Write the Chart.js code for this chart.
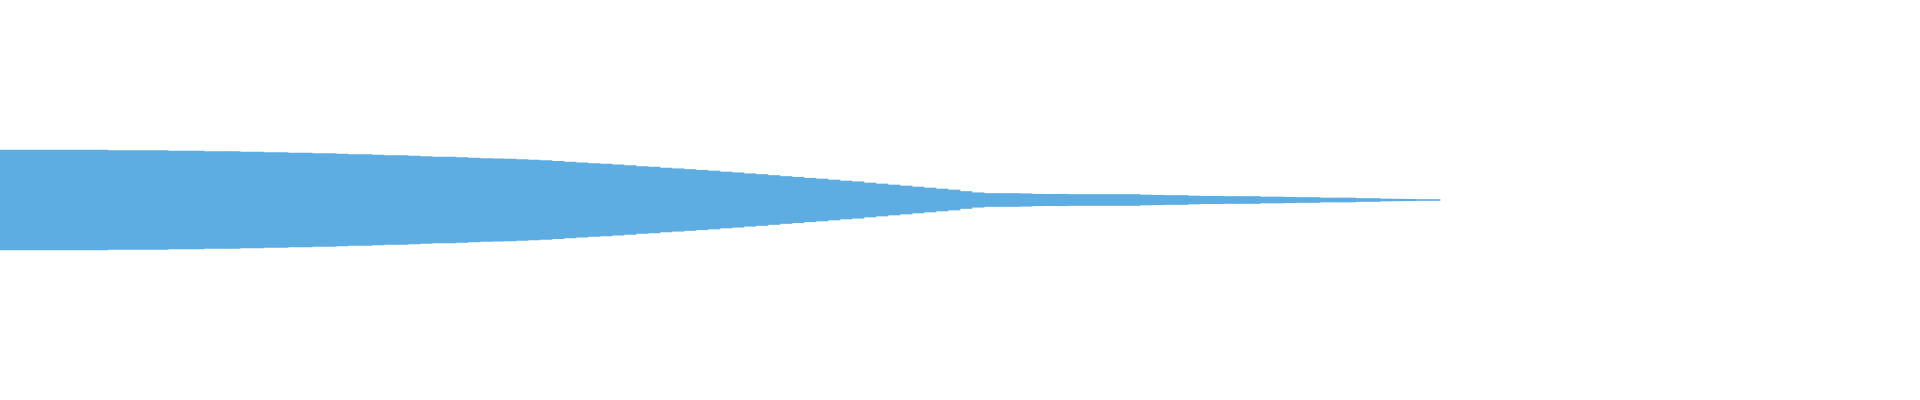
<!DOCTYPE html>
<html>
<head>
<meta charset="utf-8">
<script src="https://cdn.jsdelivr.net/npm/chart.js@4"></script>
<style>
html,body{margin:0;padding:0;background:#fff;}
#wrap{width:1920px;height:400px;position:relative;}
</style>
</head>
<body>
<div id="wrap"><canvas id="c"></canvas></div>
<script>
// Band width (height of the funnel) per stage
const widths = [
 100,100,100,100,100,100,100,100,100,99,
 99,99,99,99,98,98,98,97,97,97,
 96,96,95,95,94,94,93,93,92,91,
 91,90,89,89,88,87,86,86,85,84,
 83,82.5,82,81,80,79,77.5,76,74.5,73,
 72,70.5,69,67,66,64,62.5,61,59.5,58,
 56,54.5,52.5,51,49,47,45.5,43.5,42,40,
 38,36.5,34,32,30,28,26,24,22,20,
 17,14.5,13,13,13,12.5,11.5,11.3,11.5,11,
 11,11,11,11,11,10,9.5,9,9,8,
 7.5,7.5,7,7,7,6,6,5.5,5,5,
 4,4,4,3,3,2,1.7,1.5,1,1
];
const totalSlots = 160;
const categories = Array.from({length: totalSlots}, (_, i) => String(i + 1));
const center = 0;

const bands = widths.map(w => [center - w / 2, center + w / 2]);

new Chart(document.getElementById('c'), {
  type: 'bar',
  data: {
    labels: categories,
    datasets: [{
      data: bands,
      backgroundColor: '#5DADE2',
      borderWidth: 0,
      barPercentage: 1,
      categoryPercentage: 1
    }]
  },
  options: {
    responsive: true,
    maintainAspectRatio: false,
    animation: false,
    devicePixelRatio: 1,
    layout: { padding: 0 },
    plugins: { legend: { display: false }, tooltip: { enabled: false } },
    scales: {
      x: { display: false, grid: { display: false } },
      y: { display: false, min: -200, max: 200, grid: { display: false } }
    }
  }
});
</script>
</body>
</html>
